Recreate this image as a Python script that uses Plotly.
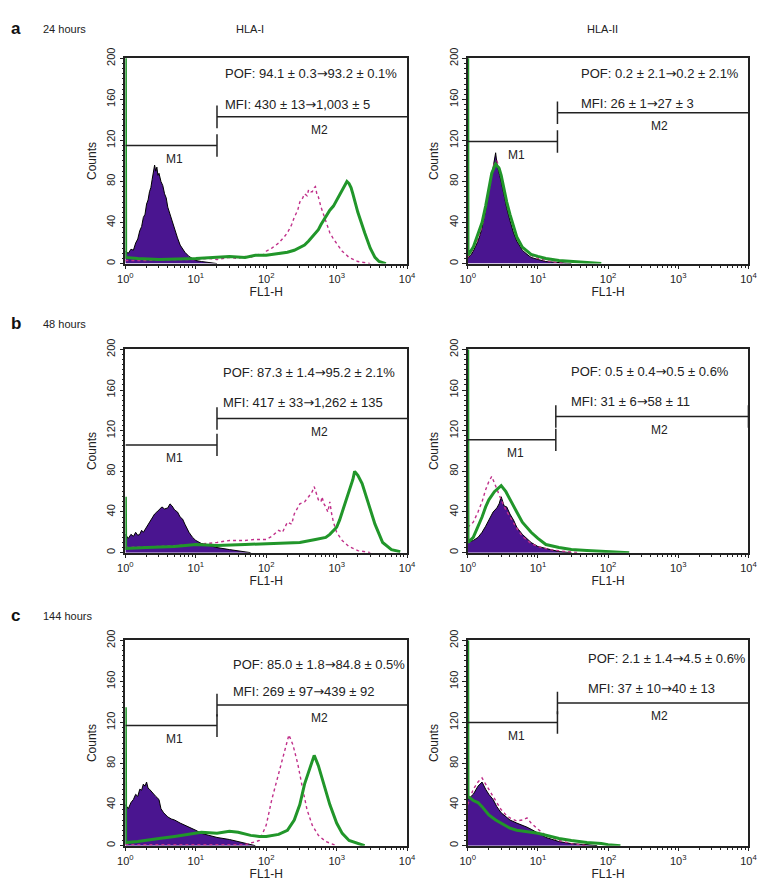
import math
import plotly.graph_objects as go

W, H = 777, 895

# ---------------- data (FL1-H values, counts) ----------------
# 24 h, HLA-I
A1_ISO_X = [1.0, 1.1, 1.2, 1.3, 1.4, 1.5, 1.6, 1.7, 1.8, 1.9, 2.0, 2.1, 2.2, 2.3, 2.4, 2.5, 2.6, 2.7, 2.8, 2.9, 3.0, 3.2, 3.4, 3.6, 3.8, 4.0, 4.3, 4.6, 5.0, 5.5, 6.0, 6.5, 7.0, 8.0, 9.0, 10, 12, 15, 20]
A1_ISO_Y = [12, 10, 14, 13, 20, 24, 32, 36, 45, 48, 58, 62, 70, 74, 82, 88, 96, 90, 94, 86, 88, 80, 76, 68, 64, 55, 48, 42, 33, 25, 18, 14, 11, 7, 5, 3, 2, 1, 0]
A1_PRE_X = [1, 2, 5, 10, 15, 20, 30, 40, 50, 60, 70, 80, 90, 100, 120, 150, 180, 200, 230, 250, 280, 300, 330, 350, 380, 400, 430, 450, 480, 500, 530, 550, 600, 650, 700, 800, 900, 1000, 1200, 1500, 2000, 3000]
A1_PRE_Y = [3, 3, 4, 4, 5, 4, 6, 5, 7, 6, 8, 9, 8, 12, 15, 20, 26, 30, 38, 45, 52, 60, 64, 68, 66, 72, 70, 70, 74, 75, 66, 65, 55, 48, 42, 30, 24, 20, 12, 6, 2, 0]
A1_POST_X = [1.0, 1.01, 1.5, 3, 10, 20, 30, 50, 70, 100, 130, 160, 200, 250, 300, 350, 400, 450, 500, 550, 600, 700, 800, 900, 1000, 1100, 1200, 1300, 1400, 1500, 1600, 1700, 2000, 2500, 3000, 3500, 4000, 5000]
A1_POST_Y = [210, 6, 5, 4, 5, 6, 7, 6, 8, 8, 9, 10, 11, 13, 16, 18, 22, 26, 30, 33, 38, 45, 52, 56, 62, 66, 72, 76, 80, 78, 74, 68, 50, 30, 15, 6, 2, 0]

# 24 h, HLA-II
A2_ISO_X = [1.0, 1.1, 1.2, 1.3, 1.4, 1.5, 1.6, 1.8, 2.0, 2.2, 2.4, 2.5, 2.6, 2.7, 2.85, 3.0, 3.3, 3.6, 4.0, 4.5, 5.0, 6.0, 7.0, 8.0, 10, 13, 20, 30]
A2_ISO_Y = [5, 8, 12, 17, 22, 28, 35, 52, 70, 88, 100, 108, 98, 92, 86, 80, 66, 54, 42, 30, 22, 13, 9, 6, 4, 2, 1, 0]
A2_PRE_X = [1.0, 1.2, 1.4, 1.6, 1.8, 2.0, 2.2, 2.4, 2.6, 2.8, 3.0, 3.4, 4.0, 5.0, 6.0, 8.0, 10, 15, 25]
A2_PRE_Y = [6, 14, 24, 36, 54, 72, 88, 98, 100, 94, 84, 68, 48, 26, 16, 8, 5, 2, 0]
A2_POST_X = [1.0, 1.01, 1.2, 1.4, 1.6, 1.8, 2.0, 2.2, 2.5, 2.8, 3.0, 3.3, 3.6, 4.0, 4.5, 5.0, 6.0, 7.0, 8.0, 10, 13, 20, 30, 50, 80]
A2_POST_Y = [210, 8, 16, 28, 40, 56, 74, 88, 97, 93, 86, 72, 60, 48, 35, 26, 16, 12, 9, 7, 5, 3, 2, 1, 0]

# 48 h, HLA-I
B1_ISO_X = [1.0, 1.1, 1.2, 1.3, 1.4, 1.5, 1.6, 1.7, 1.8, 2.0, 2.2, 2.4, 2.6, 2.8, 3.0, 3.3, 3.6, 4.0, 4.3, 4.6, 5.0, 5.5, 6.0, 6.5, 7.0, 8.0, 9.0, 10, 12, 15, 20, 30, 40, 60]
B1_ISO_Y = [18, 14, 18, 16, 20, 17, 18, 22, 20, 25, 30, 34, 38, 40, 42, 45, 43, 44, 48, 46, 42, 40, 35, 33, 28, 20, 15, 12, 9, 7, 5, 3, 2, 0]
B1_PRE_X = [1, 3, 10, 20, 30, 50, 70, 100, 120, 130, 150, 170, 200, 230, 250, 300, 350, 400, 450, 480, 520, 550, 600, 620, 660, 700, 750, 800, 850, 900, 1000, 1200, 1500, 2000, 3000]
B1_PRE_Y = [5, 6, 8, 10, 12, 12, 13, 13, 16, 18, 22, 20, 30, 28, 38, 48, 50, 55, 60, 65, 58, 52, 50, 55, 48, 45, 40, 50, 38, 30, 20, 12, 6, 2, 0]
B1_POST_X = [1.0, 1.01, 2, 5, 10, 20, 50, 100, 200, 300, 500, 700, 800, 1000, 1100, 1200, 1400, 1500, 1700, 1800, 2000, 2300, 2800, 3500, 4500, 6000, 8000]
B1_POST_Y = [55, 4, 5, 6, 8, 7, 8, 9, 10, 10, 13, 15, 18, 25, 32, 40, 52, 60, 72, 80, 76, 68, 50, 28, 10, 3, 1]

# 48 h, HLA-II
B2_ISO_X = [1.0, 1.2, 1.4, 1.6, 1.8, 2.0, 2.3, 2.6, 2.8, 3.0, 3.3, 3.6, 4.0, 4.5, 5.0, 6.0, 7.0, 8.0, 10, 15, 20, 30]
B2_ISO_Y = [10, 12, 15, 20, 26, 32, 40, 44, 48, 55, 46, 45, 38, 32, 25, 18, 14, 10, 6, 3, 1, 0]
B2_PRE_X = [1.0, 1.2, 1.4, 1.6, 1.8, 2.0, 2.2, 2.5, 3.0, 3.5, 4.0, 5.0, 6.0, 8.0, 10, 15, 25, 40]
B2_PRE_Y = [25, 30, 40, 50, 62, 70, 75, 65, 52, 42, 35, 24, 16, 9, 6, 3, 1, 0]
B2_POST_X = [1.0, 1.01, 1.2, 1.4, 1.6, 1.8, 2.0, 2.4, 3.0, 3.5, 4.0, 5.0, 6.0, 7.0, 8.0, 10, 13, 20, 30, 50, 100, 200]
B2_POST_Y = [210, 10, 15, 25, 35, 45, 52, 60, 66, 60, 52, 40, 30, 24, 20, 14, 8, 5, 3, 2, 1, 0]

# 144 h, HLA-I
C1_ISO_X = [1.0, 1.1, 1.2, 1.3, 1.4, 1.5, 1.6, 1.7, 1.8, 1.9, 2.0, 2.1, 2.2, 2.4, 2.5, 2.7, 3.0, 3.2, 3.5, 4.0, 4.5, 5.0, 6.0, 7.0, 8.0, 10, 12, 15, 20, 30, 40, 50, 70]
C1_ISO_Y = [40, 36, 42, 45, 50, 48, 55, 54, 60, 58, 62, 56, 55, 52, 50, 48, 45, 36, 32, 28, 26, 25, 22, 20, 18, 15, 12, 10, 8, 6, 4, 2, 0]
C1_PRE_X = [1, 10, 50, 80, 100, 120, 150, 180, 210, 240, 280, 330, 380, 450, 550, 700, 900, 1000]
C1_PRE_Y = [1, 1, 1, 5, 20, 45, 70, 90, 108, 98, 80, 55, 35, 20, 10, 4, 1, 0]
C1_POST_X = [1.0, 1.01, 1.5, 2, 3, 5, 8, 12, 20, 30, 40, 60, 80, 100, 150, 200, 250, 300, 350, 400, 450, 480, 550, 650, 800, 1000, 1200, 1500, 2000, 2500]
C1_POST_Y = [135, 3, 4, 5, 7, 9, 11, 13, 12, 14, 13, 10, 9, 9, 11, 15, 25, 40, 60, 72, 82, 88, 78, 60, 40, 22, 12, 5, 2, 0]

# 144 h, HLA-II
C2_ISO_X = [1.0, 1.2, 1.4, 1.6, 1.8, 2.0, 2.3, 2.6, 3.0, 3.5, 4.0, 5.0, 6.0, 7.0, 8.0, 10, 13, 20, 30, 50, 70]
C2_ISO_Y = [45, 50, 58, 62, 55, 50, 45, 38, 32, 28, 25, 22, 20, 18, 16, 12, 8, 4, 2, 1, 0]
C2_PRE_X = [1.0, 1.2, 1.4, 1.6, 1.8, 2.0, 2.3, 2.6, 3.0, 3.5, 4.0, 5.0, 6.0, 7.0, 8.0, 10, 13, 20, 30, 50]
C2_PRE_Y = [40, 55, 62, 66, 60, 55, 48, 42, 35, 30, 27, 24, 25, 27, 22, 16, 10, 5, 2, 0]
C2_POST_X = [1.0, 1.01, 1.2, 1.4, 1.6, 1.8, 2.0, 2.5, 3.0, 3.5, 4.0, 5.0, 6.0, 8.0, 10, 13, 20, 30, 50, 80, 100, 150]
C2_POST_Y = [210, 48, 44, 42, 38, 34, 30, 25, 22, 20, 17, 15, 14, 13, 12, 10, 7, 5, 3, 2, 1, 0]

# gates: boundary between M1/M2, M1 level, M2 level
GATE_SPLIT = [20, 19, 20, 18, 20, 19]
M1_LEVEL = [115, 119, 106, 111, 117, 120]
M2_LEVEL = [143, 147, 132, 134, 137, 139]
M2_END_BAR = [False, False, False, True, False, False]

POF_TEXT = [
    "POF: 94.1 ± 0.3{a}93.2 ± 0.1%", "POF: 0.2 ± 2.1{a}0.2 ± 2.1%",
    "POF: 87.3 ± 1.4{a}95.2 ± 2.1%", "POF: 0.5 ± 0.4{a}0.5 ± 0.6%",
    "POF: 85.0 ± 1.8{a}84.8 ± 0.5%", "POF: 2.1 ± 1.4{a}4.5 ± 0.6%",
]
MFI_TEXT = [
    "MFI: 430 ± 13{a}1,003 ± 5", "MFI: 26 ± 1{a}27 ± 3",
    "MFI: 417 ± 33{a}1,262 ± 135", "MFI: 31 ± 6{a}58 ± 11",
    "MFI: 269 ± 97{a}439 ± 92", "MFI: 37 ± 10{a}40 ± 13",
]
ROW_LETTERS = ["a", "b", "c"]
ROW_TIMES = ["24 hours", "48 hours", "144 hours"]
COL_TITLES = ["HLA-I", "HLA-II"]
X_TICKS = [1, 10, 100, 1000, 10000]
X_TICKTEXT = ["10<sup>0</sup>", "10<sup>1</sup>", "10<sup>2</sup>", "10<sup>3</sup>", "10<sup>4</sup>"]
Y_TICKS = [0, 40, 80, 120, 160, 200]

PANELS = [
    (A1_ISO_X, A1_ISO_Y, A1_PRE_X, A1_PRE_Y, A1_POST_X, A1_POST_Y),
    (A2_ISO_X, A2_ISO_Y, A2_PRE_X, A2_PRE_Y, A2_POST_X, A2_POST_Y),
    (B1_ISO_X, B1_ISO_Y, B1_PRE_X, B1_PRE_Y, B1_POST_X, B1_POST_Y),
    (B2_ISO_X, B2_ISO_Y, B2_PRE_X, B2_PRE_Y, B2_POST_X, B2_POST_Y),
    (C1_ISO_X, C1_ISO_Y, C1_PRE_X, C1_PRE_Y, C1_POST_X, C1_POST_Y),
    (C2_ISO_X, C2_ISO_Y, C2_PRE_X, C2_PRE_Y, C2_POST_X, C2_POST_Y),
]

# ---------------- layout geometry (pixels) ----------------
COL_PX = [(120, 408), (470, 757)]
ROW_PX = [(48, 256), (343, 549), (638, 846)]
POF_POS = [(1.39, 185), (1.59, 185), (1.36, 177), (1.44, 178), (1.50, 177), (1.69, 182)]
MFI_POS = [(1.39, 155), (1.59, 156), (1.36, 148), (1.44, 149), (1.50, 150), (1.69, 153)]

FONT = "Liberation Sans, Arial, sans-serif"
ARROW = '<span style="font-family:DejaVu Sans">→</span>'
PURPLE = "#4a1590"
PINK = "#c0308a"
GREEN = "#21962a"
TXT = "#222222"

fig = go.Figure()
layout_axes = {}
annotations = []
minor_vals = [m * 10 ** d for d in range(4) for m in range(2, 10)]

for i, (ix, iy, px_, py_, gx, gy) in enumerate(PANELS):
    r, c = divmod(i, 2)
    n = i + 1
    xa = "x" if n == 1 else f"x{n}"
    ya = "y" if n == 1 else f"y{n}"
    x0p, x1p = COL_PX[c]
    y0p, y1p = ROW_PX[r]

    fig.add_trace(go.Scatter(x=ix, y=iy, mode="lines", fill="tozeroy",
                             fillcolor=PURPLE, line=dict(color="black", width=1),
                             xaxis=xa, yaxis=ya, showlegend=False, hoverinfo="skip"))
    fig.add_trace(go.Scatter(x=px_, y=py_, mode="lines",
                             line=dict(color=PINK, width=1.4, dash="dot"),
                             xaxis=xa, yaxis=ya, showlegend=False, hoverinfo="skip"))
    fig.add_trace(go.Scatter(x=gx, y=gy, mode="lines",
                             line=dict(color=GREEN, width=3),
                             xaxis=xa, yaxis=ya, showlegend=False, hoverinfo="skip"))

    # gate markers
    b = GATE_SPLIT[i]
    m1 = M1_LEVEL[i]
    m2 = M2_LEVEL[i]
    hb = 11
    gxs = [1, b, None, b, b, None, b, 10000, None, b, b]
    gys = [m1, m1, None, m1 - hb, m1 + hb, None, m2, m2, None, m2 - hb, m2 + hb]
    if M2_END_BAR[i]:
        gxs += [None, 10000, 10000]
        gys += [None, m2 - hb, m2 + hb]
    fig.add_trace(go.Scatter(x=gxs, y=gys, mode="lines",
                             line=dict(color=TXT, width=1.5),
                             xaxis=xa, yaxis=ya, showlegend=False, hoverinfo="skip",
                             cliponaxis=False))
    lb = math.log10(b)
    fnt = dict(size=12, family=FONT, color=TXT)
    fnt_big = dict(size=13, family=FONT, color=TXT)
    annotations.append(dict(x=lb / 2 + 0.05, y=m1 - 4, xref=xa, yref=ya, text="M1",
                            showarrow=False, yanchor="top", font=fnt))
    annotations.append(dict(x=(lb + 4) / 2 + 0.1, y=m2 - 4, xref=xa, yref=ya, text="M2",
                            showarrow=False, yanchor="top", font=fnt))
    annotations.append(dict(x=POF_POS[i][0], y=POF_POS[i][1], xref=xa, yref=ya,
                            text=POF_TEXT[i].format(a=ARROW),
                            showarrow=False, xanchor="left", yanchor="middle", font=fnt_big))
    annotations.append(dict(x=MFI_POS[i][0], y=MFI_POS[i][1], xref=xa, yref=ya,
                            text=MFI_TEXT[i].format(a=ARROW),
                            showarrow=False, xanchor="left", yanchor="middle", font=fnt_big))

    axis_common = dict(showline=True, mirror=True, linecolor=TXT, linewidth=1.5,
                       showgrid=False, zeroline=False, ticks="outside", ticklen=4,
                       tickcolor=TXT, tickfont=dict(size=11, family=FONT, color=TXT))
    layout_axes["xaxis" if n == 1 else f"xaxis{n}"] = dict(
        axis_common, type="log", range=[0, 4], anchor=ya,
        domain=[x0p / W, x1p / W],
        tickvals=X_TICKS, ticktext=X_TICKTEXT,
        minor=dict(ticks="outside", ticklen=3, tickvals=minor_vals, tickcolor=TXT),
        title=dict(text="FL1-H", font=dict(size=12, family=FONT, color=TXT), standoff=4))
    layout_axes["yaxis" if n == 1 else f"yaxis{n}"] = dict(
        axis_common, range=[0, 200], anchor=xa,
        domain=[1 - y1p / H, 1 - y0p / H],
        tickvals=Y_TICKS, tickangle=-90,
        minor=dict(ticks="outside", ticklen=2, dtick=5, tickcolor=TXT),
        title=dict(text="Counts", font=dict(size=12, family=FONT, color=TXT), standoff=6))

# row / column labels
ROW_LABEL_Y = [18, 317, 613]
for r in range(3):
    annotations.append(dict(x=8 / W, y=1 - ROW_LABEL_Y[r] / H, xref="paper", yref="paper",
                            text=f"<b>{ROW_LETTERS[r]}</b>", showarrow=False, xanchor="center",
                            yanchor="middle", font=dict(size=17, family=FONT, color="#111")))
    annotations.append(dict(x=34 / W, y=1 - ROW_LABEL_Y[r] / H, xref="paper", yref="paper",
                            text=ROW_TIMES[r], showarrow=False, xanchor="left",
                            yanchor="middle", font=dict(size=11, family=FONT, color=TXT)))
COL_TITLE_X = [247, 608]
for c in range(2):
    annotations.append(dict(x=COL_TITLE_X[c] / W, y=1 - 18 / H, xref="paper", yref="paper",
                            text=COL_TITLES[c], showarrow=False, xanchor="center",
                            yanchor="middle", font=dict(size=11, family=FONT, color=TXT)))

fig.update_layout(width=W, height=H, margin=dict(l=0, r=0, t=0, b=0),
                  paper_bgcolor="white", plot_bgcolor="white",
                  annotations=annotations, font=dict(family=FONT), **layout_axes)

fig.write_html("out.html", config={"displayModeBar": False},
               post_script="document.body.style.margin='0';")
